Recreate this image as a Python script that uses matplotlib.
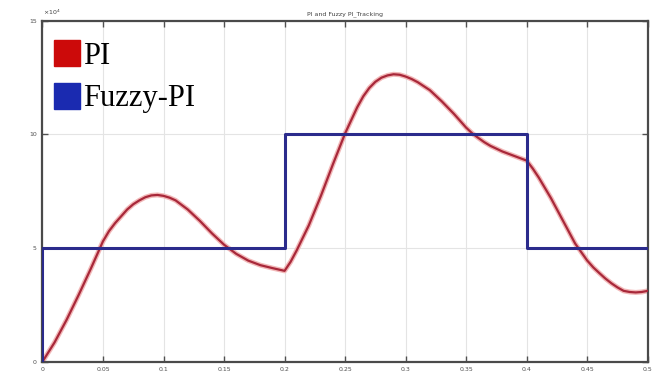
import matplotlib
matplotlib.use("Agg")
import matplotlib.pyplot as plt
from matplotlib.patches import Patch

# time axis (s) and PI response (x 10^4)
t_pi = [0.000, 0.010, 0.020, 0.030, 0.040, 0.045, 0.050, 0.055, 0.060, 0.070,
        0.075, 0.080, 0.085, 0.090, 0.095, 0.100, 0.105, 0.110, 0.120, 0.130,
        0.140, 0.150, 0.160, 0.170, 0.180, 0.190, 0.195, 0.200, 0.205, 0.210,
        0.220, 0.230, 0.240, 0.250, 0.260, 0.265, 0.270, 0.275, 0.280, 0.285,
        0.290, 0.295, 0.300, 0.305, 0.310, 0.320, 0.330, 0.340, 0.350, 0.355,
        0.360, 0.365, 0.370, 0.380, 0.390, 0.400, 0.405, 0.410, 0.420, 0.430,
        0.440, 0.450, 0.455, 0.460, 0.465, 0.470, 0.475, 0.480, 0.485, 0.490,
        0.495, 0.500]
pi_vals = [0.0, 0.85, 1.85, 2.95, 4.1, 4.7, 5.3, 5.75, 6.1, 6.7,
           6.93, 7.1, 7.24, 7.32, 7.34, 7.3, 7.22, 7.1, 6.7, 6.2,
           5.65, 5.15, 4.75, 4.45, 4.25, 4.12, 4.06, 4.0, 4.4, 4.9,
           6.0, 7.3, 8.7, 10.05, 11.2, 11.68, 12.05, 12.32, 12.5, 12.6,
           12.65, 12.63, 12.55, 12.44, 12.3, 11.95, 11.45, 10.9, 10.3, 10.05,
           9.85, 9.66, 9.5, 9.25, 9.05, 8.85, 8.5, 8.1, 7.2, 6.2,
           5.2, 4.45, 4.15, 3.9, 3.66, 3.45, 3.27, 3.12, 3.07, 3.05,
           3.07, 3.12]

# Fuzzy-PI reference (step)
t_fuzzy = [0.0, 0.0, 0.2, 0.4, 0.5]
fuzzy_vals = [0, 5, 10, 5, 5]

xticks = [0, 0.05, 0.1, 0.15, 0.2, 0.25, 0.3, 0.35, 0.4, 0.45, 0.5]
xtick_labels = ["0", "0.05", "0.1", "0.15", "0.2", "0.25", "0.3", "0.35", "0.4", "0.45", "0.5"]
yticks = [0, 5, 10, 15]

red = "#a8283a"
blue = "#2b2b8c"

fig = plt.figure(figsize=(6.58, 3.83), dpi=100)
ax = fig.add_axes([0.0645, 0.0555, 0.920, 0.890])

ax.plot(t_pi, pi_vals, color="#f2b8b8", lw=3.6, zorder=2)
ax.plot(t_pi, pi_vals, color=red, lw=1.6, zorder=3)
ax.plot(t_fuzzy, fuzzy_vals, color=blue, lw=2.2, drawstyle="steps-post", zorder=4)

ax.set_xlim(0, 0.5)
ax.set_ylim(0, 15)
ax.set_xticks(xticks)
ax.set_xticklabels(xtick_labels)
ax.set_yticks(yticks)
ax.grid(True, color="#e4e4e4", lw=0.8)
ax.set_axisbelow(True)
ax.tick_params(direction="in", top=True, right=True, length=4, width=1,
               labelsize=4.5, colors="#505050", pad=4)
for s in ax.spines.values():
    s.set_color("#4a4a4a")
    s.set_linewidth(1.6)

ax.set_title("PI and Fuzzy PI_Tracking", fontsize=4.5, color="#404040", pad=4)
fig.text(0.066, 0.962, r"$\times10^4$", fontsize=4.5, color="#404040")

handles = [Patch(facecolor="#cc0a0a", edgecolor="#cc0a0a", label="PI"),
           Patch(facecolor="#1a2ab0", edgecolor="#1a2ab0", label="Fuzzy-PI")]
ax.legend(handles=handles, loc="upper left", bbox_to_anchor=(-0.022, 1.016),
          frameon=False, prop={"family": "Liberation Serif", "size": 22},
          handlelength=0.85, handleheight=0.95, handletextpad=0.1,
          labelspacing=0.4, borderaxespad=0.4)

fig.savefig("out.png", dpi=100)
